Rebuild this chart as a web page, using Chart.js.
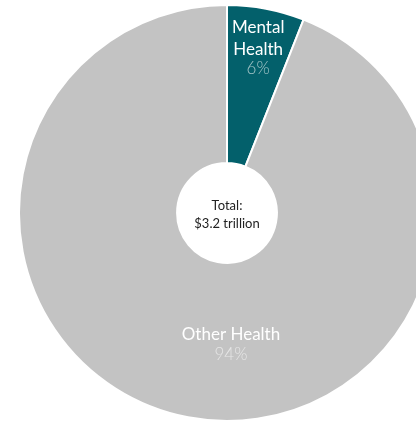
<!DOCTYPE html>
<html>
<head>
<meta charset="utf-8">
<script src="https://cdn.jsdelivr.net/npm/chart.js@4"></script>
<style>
  html, body { margin: 0; padding: 0; background: #fff; overflow: hidden; width: 416px; height: 422px; }
  #wrap { position: absolute; left: 0; top: 4px; }
</style>
</head>
<body>
<div id="wrap"><canvas id="pie" width="454" height="418"></canvas></div>
<script>
// data
const categories = ['Mental Health', 'Other Health'];
const shares = [6, 94];
const pctLabels = ['6%', '94%'];
const totalLabel = ['Total:', '$3.2 trillion'];

const COLORS = ['#03606b', '#c3c3c3'];
const FONT = 'Lato, "Open Sans", sans-serif';

// labels drawn on top of the slices
const labelPlugin = {
  id: 'sliceLabels',
  afterDatasetsDraw(chart) {
    const ctx = chart.ctx;
    const arcs = chart.getDatasetMeta(0).data;
    const cx = arcs[0].x, cy = arcs[0].y, r = arcs[0].outerRadius;
    ctx.save();
    ctx.textAlign = 'center';
    ctx.textBaseline = 'alphabetic';

    // Mental Health: along the middle of its slice
    const a = arcs[0];
    const mid = (a.startAngle + a.endAngle) / 2;
    const mx = cx + Math.cos(mid) * r * 0.80;
    const my = cy + Math.sin(mid) * r * 0.80;
    ctx.font = '17px ' + FONT;
    ctx.fillStyle = '#ffffff';
    ctx.fillText('Mental', mx, my - 17);
    ctx.fillText('Health', mx, my + 5);
    ctx.font = '300 17px ' + FONT;
    ctx.fillStyle = '#a6c6c9';
    ctx.fillText(pctLabels[0], mx, my + 24);

    // Other Health: below the centre
    const ox = cx + 4, oy = cy + r * 0.61;
    ctx.font = '17px ' + FONT;
    ctx.fillStyle = '#ffffff';
    ctx.fillText(categories[1], ox, oy);
    ctx.font = '300 17px ' + FONT;
    ctx.fillStyle = '#e6e6e6';
    ctx.fillText(pctLabels[1], ox, oy + 20);

    // centre total
    ctx.font = '13px ' + FONT;
    ctx.fillStyle = '#222222';
    ctx.fillText(totalLabel[0], cx, cy - 3);
    ctx.fillText(totalLabel[1], cx, cy + 15);
    ctx.restore();
  }
};

new Chart(document.getElementById('pie'), {
  type: 'doughnut',
  data: {
    labels: categories,
    datasets: [{
      data: shares,
      backgroundColor: COLORS,
      borderColor: '#ffffff',
      borderWidth: 2
    }]
  },
  options: {
    responsive: false,
    animation: false,
    cutout: '24%',
    layout: { padding: 0 },
    plugins: { legend: { display: false }, tooltip: { enabled: false } }
  },
  plugins: [labelPlugin]
});
</script>
</body>
</html>
